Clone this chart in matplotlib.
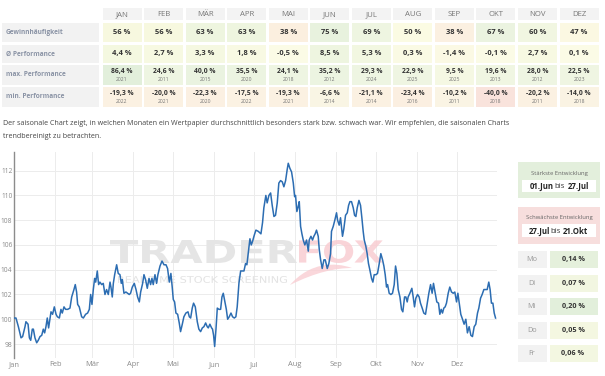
import matplotlib
matplotlib.use("Agg")
import matplotlib.pyplot as plt
from matplotlib.patches import Rectangle, PathPatch
from matplotlib.path import Path
from matplotlib.textpath import TextPath
from matplotlib.font_manager import FontProperties
import matplotlib.transforms as mtransforms

# ---------------- data ----------------
table_months = ['JAN', 'FEB', 'MÄR', 'APR', 'MAI', 'JUN', 'JUL', 'AUG', 'SEP', 'OKT', 'NOV', 'DEZ']
win_rate = [56, 56, 63, 63, 38, 75, 69, 50, 38, 67, 60, 47]
avg_perf = [4.4, 2.7, 3.3, 1.8, -0.5, 8.5, 5.3, 0.3, -1.4, -0.1, 2.7, 0.1]
max_perf = [86.4, 24.6, 40.0, 35.5, 24.1, 35.2, 29.3, 22.9, 9.5, 19.6, 28.0, 22.5]
max_year = [2021, 2011, 2015, 2020, 2018, 2012, 2024, 2025, 2025, 2013, 2012, 2023]
min_perf = [-19.3, -20.0, -22.3, -17.5, -19.3, -6.6, -21.1, -23.4, -10.2, -40.0, -20.2, -14.0]
min_year = [2022, 2021, 2020, 2022, 2021, 2014, 2014, 2016, 2011, 2018, 2011, 2018]
row_labels = ['Gewinnhäufigkeit', 'Ø Performance', 'max. Performance', 'min. Performance']

weekdays = ['Mo', 'Di', 'Mi', 'Do', 'Fr']
weekday_perf = [0.14, 0.07, 0.20, 0.05, 0.06]

best_period = ('01.Jun', '27.Jul')
worst_period = ('27.Jul', '21.Okt')

axis_months = ['Jan', 'Feb', 'Mär', 'Apr', 'Mai', 'Jun', 'Jul', 'Aug', 'Sep', 'Okt', 'Nov', 'Dez']
axis_month_days = [0, 31, 59, 90, 120, 151, 181, 212, 243, 273, 304, 334]
y_ticks = [98, 100, 102, 104, 106, 108, 110, 112]

days = [0.0, 1.5, 3.3, 5.3, 6.5, 8.3, 9.0, 10.6, 11.6, 12.6, 13.8, 14.6, 15.8, 17.1, 18.3, 19.6,
        20.9, 22.1, 23.1, 24.1, 25.1, 26.1, 27.1, 27.9, 29.1, 30.4, 31.7, 32.7, 34.2, 35.4, 36.4,
        37.7, 38.9, 40.5, 42.2, 43.5, 45.2, 46.2, 47.2, 48.0, 49.2, 51.0, 52.3, 54.0, 55.5, 56.8,
        57.8, 58.8, 59.8, 60.8, 61.6, 62.8, 63.8, 64.8, 66.1, 67.3, 68.6, 69.8, 71.1, 72.4, 73.1,
        74.1, 74.9, 75.9, 77.4, 78.6, 79.9, 80.9, 81.7, 82.9, 84.4, 85.7, 86.9, 87.9, 89.2, 90.7,
        92.0, 93.2, 94.5, 95.5, 97.0, 98.0, 99.2, 100.5, 101.8, 103.0, 104.0, 105.0, 106.3, 107.5,
        108.5, 110.1, 111.6, 113.1, 114.6, 115.8, 117.1, 118.3, 119.3, 120.1, 121.1, 122.1, 123.4,
        124.6, 125.6, 126.9, 128.1, 129.6, 131.2, 132.2, 133.2, 134.4, 135.4, 136.7, 138.2, 139.4,
        140.7, 142.0, 143.2, 144.5, 145.7, 146.5, 147.7, 149.0, 149.7, 150.5, 151.3, 152.3, 153.3,
        154.5, 155.8, 156.8, 157.8, 159.0, 160.1, 161.1, 162.3, 163.6, 164.8, 166.1, 167.3, 168.3,
        169.6, 170.9, 172.1, 173.4, 174.6, 175.6, 176.9, 177.9, 178.9, 179.9, 181.2, 182.4, 184.2,
        186.2, 187.4, 188.4, 189.9, 190.9, 192.2, 193.5, 194.7, 196.0, 197.2, 198.5, 199.7, 201.0,
        202.3, 203.5, 204.8, 206.0, 206.8, 208.0, 209.3, 210.6, 211.6, 212.3, 213.3, 214.3, 215.1,
        216.1, 217.1, 218.1, 219.3, 220.6, 221.9, 222.6, 223.9, 225.1, 226.1, 227.1, 228.1, 229.4,
        230.2, 231.2, 232.4, 233.7, 234.7, 236.2, 237.4, 238.7, 239.4, 240.7, 241.9, 243.2, 244.0,
        245.2, 246.2, 247.7, 248.7, 250.0, 251.3, 252.3, 253.3, 254.5, 255.8, 256.8, 257.8, 258.8,
        260.1, 261.3, 262.3, 263.3, 264.1, 265.3, 266.3, 267.3, 268.3, 269.6, 270.6, 271.6, 272.9,
        274.1, 275.4, 276.6, 277.9, 278.9, 279.9, 280.9, 281.7, 282.9, 284.2, 285.4, 286.7, 287.7,
        288.7, 289.7, 291.0, 292.2, 293.2, 294.5, 295.5, 296.5, 297.2, 298.5, 300.0, 301.0, 302.0,
        303.0, 304.3, 305.5, 306.5, 307.8, 309.0, 310.3, 311.6, 312.8, 314.1, 315.3, 316.3, 317.6,
        318.8, 320.1, 321.1, 322.1, 323.1, 324.1, 325.1, 326.1, 327.4, 328.6, 329.9, 331.2, 332.4,
        333.7, 334.7, 335.7, 336.9, 338.2, 339.4, 340.7, 341.9, 343.2, 344.5, 345.7, 347.0, 348.2,
        349.5, 350.5, 351.8, 353.0, 354.3, 355.5, 356.8, 358.0, 359.0, 360.0, 361.1, 362.1, 363.1]
values = [100.1, 100.1, 99.4, 98.5, 98.6, 99.4, 99.8, 99.6, 98.5, 98.3, 99.2, 99.2, 98.5, 98.1, 98.3, 98.6,
          98.7, 99.2, 98.9, 99.4, 100.1, 99.3, 100.0, 100.6, 100.4, 101.0, 100.4, 100.2, 100.1, 100.8, 100.5,
          101.0, 100.8, 100.8, 100.9, 101.8, 102.4, 102.8, 102.2, 101.2, 101.0, 100.2, 100.1, 100.4, 100.5, 100.8,
          102.0, 101.2, 102.4, 103.3, 103.0, 103.9, 102.8, 103.0, 102.8, 102.9, 102.0, 102.4, 102.0, 103.0, 102.6,
          101.8, 102.9, 103.6, 104.4, 103.7, 103.6, 102.9, 103.2, 102.1, 102.2, 102.1, 102.0, 102.1, 102.6, 102.9,
          102.4, 101.8, 101.4, 102.2, 102.9, 103.6, 103.2, 102.5, 103.3, 102.8, 103.3, 102.8, 103.6, 102.9,
          103.6, 104.3, 104.7, 104.4, 104.4, 104.1, 103.0, 103.7, 102.6, 101.6, 101.4, 100.5, 100.4,
          99.7, 99.0, 99.6, 100.2, 100.5, 100.6, 100.2, 100.1, 100.9, 101.3, 101.0, 99.8, 99.2,
          99.0, 99.3, 99.4, 99.7, 99.4, 99.3, 99.6, 99.3, 99.2, 98.7, 97.8, 99.2, 100.9,
          100.8, 100.8, 101.8, 102.1, 101.4, 100.8, 100.0, 100.2, 100.5, 100.2, 100.1, 100.2, 101.0,
          102.9, 103.9, 103.9, 103.9, 104.5, 104.4, 105.6, 106.5, 106.0, 106.3, 106.8, 107.2, 107.1,
          106.9, 107.8, 109.0, 110.0, 109.4, 110.0, 110.2, 109.2, 108.3, 108.4, 109.4, 111.0, 111.2,
          111.1, 110.7, 111.2, 112.1, 112.6, 112.2, 111.9, 111.0, 109.9, 110.0, 108.7, 109.1, 109.5,
          107.5, 106.9, 106.4, 106.0, 106.4, 105.5, 106.4, 106.7, 106.4, 106.7, 106.9, 107.2, 106.7,
          105.6, 104.8, 104.1, 104.8, 104.8, 104.1, 104.5, 105.3, 107.1, 107.5, 108.0, 108.6, 108.0,
          107.6, 108.2, 106.7, 107.3, 108.4, 108.6, 109.2, 109.5, 109.5, 109.0, 108.4, 108.3, 109.0,
          109.6, 109.2, 108.2, 107.1, 106.4, 105.9, 105.3, 104.5, 104.0, 103.3, 103.0, 103.6, 103.6,
          103.7, 104.5, 105.3, 104.8, 104.3, 103.6, 102.6, 102.8, 102.1, 102.0, 102.1, 102.8, 104.3,
          103.7, 102.4, 101.8, 100.8, 100.6, 101.8, 101.8, 101.4, 101.8, 102.1, 102.5, 101.8, 101.0,
          101.7, 102.0, 101.8, 101.3, 100.9, 100.5, 100.4, 101.3, 102.1, 102.8, 102.1, 102.9, 102.1,
          101.4, 101.3, 100.4, 100.8, 100.5, 100.9, 101.0, 101.3, 102.1, 102.6, 102.2, 102.1, 102.2,
          101.4, 102.1, 101.3, 100.4, 100.0, 99.6, 100.0, 98.9, 99.4, 98.7, 98.6, 99.4, 99.6,
          100.5, 100.9, 101.7, 102.0, 102.4, 102.4, 102.4, 103.0, 102.4, 101.3, 101.3, 100.5, 100.1]

# ---------------- styles ----------------
W, H = 605, 376
FONT = ['Open Sans', 'DejaVu Sans']
plt.rcParams['font.family'] = FONT

win_colors = ['#f7f8df', '#f7f8df', '#eef5df', '#eef5df', '#fbefdf', '#e8f2de',
              '#eef5e1', '#fbfbe3', '#fbf0e1', '#ebf3e0', '#f1f6e1', '#fbf8e2']
avg_colors = ['#f4f8e0', '#f7f9e2', '#f5f8e1', '#f8f9e3', '#fbfbe6', '#eef5e0',
              '#f2f7e1', '#fafae4', '#fbf9e4', '#fbfbe6', '#f7f9e2', '#fbfbe6']
max_colors = ['#e2efdb', '#eef5e2', '#eaf3e0', '#ecf4e1', '#eef5e2', '#ecf4e1',
              '#eef5e2', '#eff5e2', '#f5f8e3', '#f0f6e2', '#eef5e2', '#eff5e2']
min_colors = ['#fbf1e2', '#fbf1e2', '#fbf0e2', '#fbf2e3', '#fbf1e2', '#f9f5e4',
              '#fbf1e2', '#fbefe1', '#faf4e4', '#f9e3dc', '#fbf1e2', '#faf3e3']
wd_colors = ['#e5f0dc', '#f2f6e1', '#e2efdb', '#f4f7e1', '#f3f7e1']

fig = plt.figure(figsize=(W / 100, H / 100), dpi=100)
fig.patch.set_facecolor('white')


def rect(x0, y0, x1, y1, color, z=0):
    fig.add_artist(Rectangle((x0 / W, 1 - y1 / H), (x1 - x0) / W, (y1 - y0) / H,
                             transform=fig.transFigure, fc=color, ec='none', zorder=z))


def txt(x, y, s, **kw):
    kw.setdefault('ha', 'center')
    kw.setdefault('va', 'center')
    return fig.text(x / W, 1 - y / H, s, **kw)


def fmt(v, nd=1):
    return f"{v:.{nd}f}".replace('.', ',') + ' %'


# ---------------- table ----------------
col_c = [122 + 41.55 * i for i in range(12)]
half = 19.5
rows_y = [(23, 42), (45, 63), (65, 85), (87, 107)]
label_col = '#8a93a5'
val_col = '#333333'

for i, m in enumerate(table_months):
    rect(col_c[i] - half, 8, col_c[i] + half, 20, '#f3f3f3')
    txt(col_c[i], 14.3, m, fontsize=5.6, color='#777777')

for r, lab in enumerate(row_labels):
    y0, y1 = rows_y[r]
    rect(2, y0, 99, y1, '#f2f2f2')
    txt(6, (y0 + y1) / 2, lab, ha='left', fontsize=4.7, color=label_col, fontweight='bold')

for i in range(12):
    c = col_c[i]
    rect(c - half, 23, c + half, 42, win_colors[i])
    txt(c, 33, f"{win_rate[i]} %", fontsize=5.4, fontweight='bold', color=val_col)
    rect(c - half, 45, c + half, 63, avg_colors[i])
    txt(c, 54, fmt(avg_perf[i]), fontsize=5.4, fontweight='bold', color=val_col)
    rect(c - half, 65, c + half, 85, max_colors[i])
    txt(c, 71.3, fmt(max_perf[i]), fontsize=4.9, fontweight='bold', color=val_col)
    txt(c, 79.8, str(max_year[i]), fontsize=3.6, color='#777777')
    rect(c - half, 87, c + half, 107, min_colors[i])
    txt(c, 93.3, fmt(min_perf[i]), fontsize=4.9, fontweight='bold', color=val_col)
    txt(c, 101.8, str(min_year[i]), fontsize=3.6, color='#777777')

# ---------------- description ----------------
txt(3, 123.5, 'Der saisonale Chart zeigt, in welchen Monaten ein Wertpapier durchschnittlich besonders '
              'stark bzw. schwach war. Wir empfehlen, die saisonalen Charts',
    ha='left', fontsize=5.1, color='#444444')
txt(3, 136, 'trendbereinigt zu betrachten.', ha='left', fontsize=5.1, color='#444444')

# ---------------- chart ----------------
ax = fig.add_axes([14 / W, 1 - 358 / H, (497 - 14) / W, (358 - 152) / H])
ax.set_facecolor('none')
ax.set_xlim(0, 364.2)
ax.set_ylim(96.87, 113.51)
ax.set_xticks(axis_month_days)
ax.set_xticklabels(axis_months)
ax.set_yticks(y_ticks)
ax.set_yticklabels([str(t) for t in y_ticks])
ax.tick_params(axis='x', length=0, labelsize=5.4, colors='#8a8a8a', pad=2.2)
ax.tick_params(axis='y', length=0, labelsize=4.8, colors='#8a8a8a', pad=1.2)
ax.grid(True, color='#ececec', lw=0.7, zorder=0)
for s in ['top', 'right', 'bottom']:
    ax.spines[s].set_visible(False)
ax.spines['left'].set_color('#8c8c8c')
ax.spines['left'].set_linewidth(1.0)
ax.set_axisbelow(True)
ax.plot(days, values, color='#2c6db2', lw=1.1, zorder=3, solid_joinstyle='round')


def px_to_fig():
    return mtransforms.Affine2D().scale(1, -1).translate(0, H).scale(1 / W, 1 / H)


def fit_text(s, x0, x1, y0, y1, color, weight='bold', family='DejaVu Sans', z=1.5, alpha=1.0):
    tp = TextPath((0, 0), s, size=10, prop=FontProperties(family=family, weight=weight))
    ext = tp.get_extents()
    sx = (x1 - x0) / ext.width
    sy = (y1 - y0) / ext.height
    tr = (mtransforms.Affine2D().translate(-ext.x0, -ext.y0).scale(sx, sy)
          .translate(x0, H - y1).scale(1 / W, 1 / H))
    p = PathPatch(tr.transform_path(tp), fc=color, ec='none', transform=fig.transFigure,
                  zorder=z, alpha=alpha, clip_on=False)
    ax.add_artist(p)


fit_text('TRADER', 110, 297, 240, 263, '#e5e5e5')
fit_text('FOX', 299, 383, 240, 263, '#f9cdd2', alpha=0.85)
fit_text('REAL-TIME STOCK SCREENING', 118, 287, 276, 283, '#e3e3e3', weight='normal')

# fox tail swoosh (watermark decoration)
tail = Path([(290, 285), (310, 262), (335, 262), (352, 268),
             (336, 268), (316, 272), (290, 285)],
            [Path.MOVETO, Path.CURVE4, Path.CURVE4, Path.CURVE4,
             Path.CURVE4, Path.CURVE4, Path.CURVE4])
ax.add_artist(PathPatch(px_to_fig().transform_path(tail), fc='#f9cdd2', ec='none', alpha=0.8,
                        transform=fig.transFigure, zorder=1.5, clip_on=False))

# ---------------- right panel ----------------
rect(518, 162, 600, 198, '#e3efdc')
txt(559, 173, 'Stärkste Entwicklung', fontsize=4.2, color='#666666')
rect(522, 180, 596, 192, 'white', z=1)
txt(542, 186, best_period[0], fontsize=5.6, fontweight='bold', color='#222222', zorder=2)
txt(560, 186, 'bis', fontsize=5.6, color='#333333', zorder=2)
txt(578, 186, best_period[1], fontsize=5.6, fontweight='bold', color='#222222', zorder=2)

rect(518, 207, 600, 244, '#f7dedd')
txt(559, 218, 'Schwächste Entwicklung', fontsize=4.2, color='#666666')
rect(522, 224, 596, 237, 'white', z=1)
txt(539, 231, worst_period[0], fontsize=5.6, fontweight='bold', color='#222222', zorder=2)
txt(556, 231, 'bis', fontsize=5.6, color='#333333', zorder=2)
txt(575, 231, worst_period[1], fontsize=5.6, fontweight='bold', color='#222222', zorder=2)

wd_top = [251, 275, 298, 322, 345]
for i, d in enumerate(weekdays):
    y0 = wd_top[i]
    rect(518, y0, 547, y0 + 17, '#f2f2f2')
    rect(550, y0, 598, y0 + 17, wd_colors[i])
    txt(532, y0 + 8.5, d, fontsize=5.2, color='#999999')
    txt(573, y0 + 8.5, fmt(weekday_perf[i], 2), fontsize=5.2, fontweight='bold', color=val_col)

fig.savefig('out.png', dpi=100)
